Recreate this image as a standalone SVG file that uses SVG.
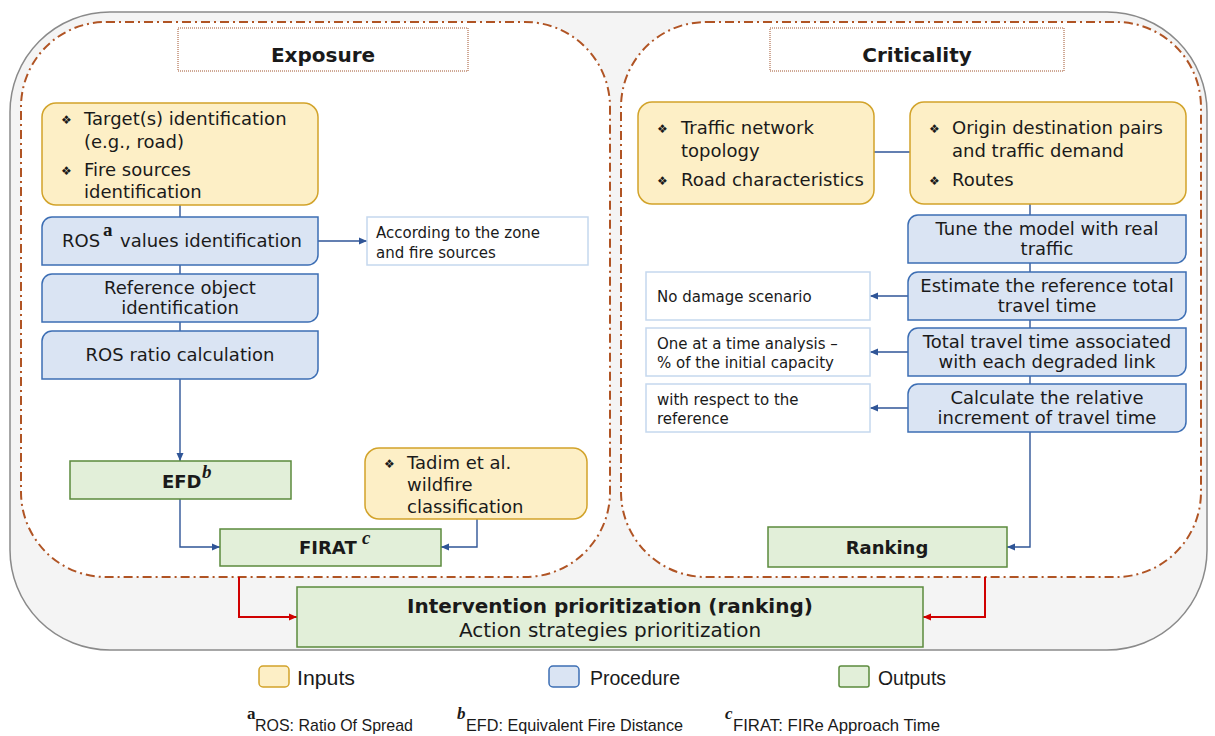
<svg xmlns="http://www.w3.org/2000/svg" width="1215" height="736" viewBox="0 0 1215 736">
<style>
.inp{fill:#fdefc6;stroke:#d2a32a;stroke-width:1.5}
.proc{fill:#dae4f3;stroke:#3c6eb4;stroke-width:1.5}
.out{fill:#e2efd9;stroke:#5b8a3c;stroke-width:1.5}
.ann{fill:#ffffff;stroke:#c5d8ee;stroke-width:1.5}
.ttl{fill:#ffffff;stroke:#a0522d;stroke-width:1;stroke-dasharray:1 1}
.dd{fill:#ffffff;stroke:#b05424;stroke-width:2;stroke-dasharray:9 4 2 4}
.t{font-family:"DejaVu Sans",Verdana,sans-serif;font-size:18px;fill:#1a1a1a}
.m{text-anchor:middle}
.s{font-size:15px}
.b{font-weight:bold}
.bl{font-size:12px}
.sup{font-family:"Liberation Serif","Times New Roman",serif;font-size:19px;fill:#1a1a1a}
.leg{font-family:"Liberation Sans",Arial,sans-serif;font-size:20px;fill:#1a1a1a}
.fn{font-family:"Liberation Sans",Arial,sans-serif;font-size:17px;fill:#1a1a1a}
.c{fill:none;stroke:#2f5597;stroke-width:1.4}
.r{fill:none;stroke:#d00000;stroke-width:2}
</style>
<defs>
<marker id="ab" markerWidth="9" markerHeight="9" refX="8" refY="4.5" orient="auto" markerUnits="userSpaceOnUse"><path d="M0,1 L8,4.5 L0,8 Z" fill="#2f5597"/></marker>
<marker id="ar" markerWidth="9" markerHeight="9" refX="8" refY="4.5" orient="auto" markerUnits="userSpaceOnUse"><path d="M0,1 L8,4.5 L0,8 Z" fill="#d00000"/></marker>
</defs>
<rect width="1215" height="736" fill="#ffffff"/>
<g id="containers">
<rect x="10" y="12" width="1197" height="638" rx="100" ry="100" fill="#f4f4f4" stroke="#8a8a8a" stroke-width="1.5"/>
<rect class="dd" x="21" y="22" width="589" height="555" rx="85" ry="85"/>
<rect class="dd" x="621" y="22" width="580" height="555" rx="85" ry="85"/>
</g>
<g id="title-exposure">
<rect class="ttl" x="178" y="28" width="290" height="43"/>
<text class="t b m" x="323" y="62" style="font-size:20px">Exposure</text>
</g>
<g id="title-criticality">
<rect class="ttl" x="770" y="28" width="294" height="43"/>
<text class="t b m" x="917" y="62" style="font-size:20px">Criticality</text>
</g>
<g id="connectors">
<path class="c" d="M180 205 V217"/>
<path class="c" d="M180 265 V274"/>
<path class="c" d="M180 322 V331"/>
<path class="c" d="M180 379 V461" marker-end="url(#ab)"/>
<path class="c" d="M318 241 H367" marker-end="url(#ab)"/>
<path class="c" d="M180 499 V547 H220" marker-end="url(#ab)"/>
<path class="c" d="M477 519 V547 H441" marker-end="url(#ab)"/>
<path class="c" d="M874 152 H910"/>
<path class="c" d="M1030 204 V215"/>
<path class="c" d="M1030 263 V272"/>
<path class="c" d="M1030 320 V328"/>
<path class="c" d="M1030 376 V384"/>
<path class="c" d="M908 296 H870" marker-end="url(#ab)"/>
<path class="c" d="M908 352 H870" marker-end="url(#ab)"/>
<path class="c" d="M908 408 H870" marker-end="url(#ab)"/>
<path class="c" d="M1030 432 V547 H1007" marker-end="url(#ab)"/>
<path class="r" d="M239 577 V617 H297" marker-end="url(#ar)"/>
<path class="r" d="M985 577 V617 H923" marker-end="url(#ar)"/>
</g>
<g id="exp-inputs">
<rect class="inp" x="42" y="103" width="276" height="102" rx="14" ry="14"/>
<text class="t bl" x="61" y="124">❖</text>
<text class="t" x="84" y="125">Target(s) identification</text>
<text class="t" x="84" y="148">(e.g., road)</text>
<text class="t bl" x="61" y="175">❖</text>
<text class="t" x="84" y="176">Fire sources</text>
<text class="t" x="84" y="198">identification</text>
</g>
<g id="ros-values">
<path class="proc" d="M52 217 H318 V255 A10 10 0 0 1 308 265 H42 V227 A10 10 0 0 1 52 217 Z"/>
<text class="t" x="62" y="247">ROS</text>
<text class="sup" x="103" y="236" font-weight="bold">a</text>
<text class="t" x="120" y="247">values identification</text>
</g>
<g id="ann-zone">
<rect class="ann" x="367" y="217" width="221" height="48"/>
<text class="t s" x="376" y="238">According to the zone</text>
<text class="t s" x="376" y="258">and fire sources</text>
</g>
<g id="ref-object">
<path class="proc" d="M52 274 H318 V312 A10 10 0 0 1 308 322 H42 V284 A10 10 0 0 1 52 274 Z"/>
<text class="t m" x="180" y="294">Reference object</text>
<text class="t m" x="180" y="314">identification</text>
</g>
<g id="ros-ratio">
<path class="proc" d="M52 331 H318 V369 A10 10 0 0 1 308 379 H42 V341 A10 10 0 0 1 52 331 Z"/>
<text class="t m" x="180" y="361">ROS ratio calculation</text>
</g>
<g id="efd">
<rect class="out" x="70" y="461" width="221" height="38"/>
<text class="t b" x="162" y="488">EFD</text>
<text class="sup" x="202" y="478" font-style="italic" font-weight="bold">b</text>
</g>
<g id="tadim">
<rect class="inp" x="365" y="448" width="222" height="71" rx="14" ry="14"/>
<text class="t bl" x="384" y="468">❖</text>
<text class="t" x="407" y="469">Tadim et al.</text>
<text class="t" x="407" y="491">wildfire</text>
<text class="t" x="407" y="513">classification</text>
</g>
<g id="firat">
<rect class="out" x="220" y="529" width="221" height="37"/>
<text class="t b" x="299" y="554">FIRAT</text>
<text class="sup" x="362" y="544" font-style="italic" font-weight="bold">c</text>
</g>
<g id="crit-inputs-1">
<rect class="inp" x="638" y="102" width="236" height="102" rx="14" ry="14"/>
<text class="t bl" x="657" y="133">❖</text>
<text class="t" x="681" y="134">Traffic network</text>
<text class="t" x="681" y="157">topology</text>
<text class="t bl" x="657" y="185">❖</text>
<text class="t" x="681" y="186">Road characteristics</text>
</g>
<g id="crit-inputs-2">
<rect class="inp" x="910" y="102" width="276" height="102" rx="14" ry="14"/>
<text class="t bl" x="929" y="133">❖</text>
<text class="t" x="952" y="134">Origin destination pairs</text>
<text class="t" x="952" y="157">and traffic demand</text>
<text class="t bl" x="929" y="185">❖</text>
<text class="t" x="952" y="186">Routes</text>
</g>
<g id="tune">
<path class="proc" d="M918 215 H1186 V253 A10 10 0 0 1 1176 263 H908 V225 A10 10 0 0 1 918 215 Z"/>
<text class="t m" x="1047" y="235">Tune the model with real</text>
<text class="t m" x="1047" y="255">traffic</text>
</g>
<g id="estimate">
<path class="proc" d="M918 272 H1186 V310 A10 10 0 0 1 1176 320 H908 V282 A10 10 0 0 1 918 272 Z"/>
<text class="t m" x="1047" y="292">Estimate the reference total</text>
<text class="t m" x="1047" y="312">travel time</text>
</g>
<g id="total">
<path class="proc" d="M918 328 H1186 V366 A10 10 0 0 1 1176 376 H908 V338 A10 10 0 0 1 918 328 Z"/>
<text class="t m" x="1047" y="348">Total travel time associated</text>
<text class="t m" x="1047" y="368">with each degraded link</text>
</g>
<g id="calculate">
<path class="proc" d="M918 384 H1186 V422 A10 10 0 0 1 1176 432 H908 V394 A10 10 0 0 1 918 384 Z"/>
<text class="t m" x="1047" y="404">Calculate the relative</text>
<text class="t m" x="1047" y="424">increment of travel time</text>
</g>
<g id="ann-nodamage">
<rect class="ann" x="646" y="272" width="224" height="48"/>
<text class="t s" x="657" y="302">No damage scenario</text>
</g>
<g id="ann-oneatatime">
<rect class="ann" x="646" y="328" width="224" height="48"/>
<text class="t s" x="657" y="349">One at a time analysis –</text>
<text class="t s" x="657" y="368">% of the initial capacity</text>
</g>
<g id="ann-respect">
<rect class="ann" x="646" y="384" width="224" height="48"/>
<text class="t s" x="657" y="405">with respect to the</text>
<text class="t s" x="657" y="424">reference</text>
</g>
<g id="ranking">
<rect class="out" x="768" y="527" width="239" height="40"/>
<text class="t b m" x="887" y="554">Ranking</text>
</g>
<g id="intervention">
<rect class="out" x="297" y="587" width="626" height="60"/>
<text class="t b m" x="610" y="613" style="font-size:20px">Intervention prioritization (ranking)</text>
<text class="t m" x="610" y="637" style="font-size:20px">Action strategies prioritization</text>
</g>
<g id="legend">
<rect x="259" y="666" width="30" height="21" rx="4" fill="#fdefc6" stroke="#d2a32a" stroke-width="1.5"/>
<text class="leg" x="297" y="685" textLength="58" lengthAdjust="spacingAndGlyphs">Inputs</text>
<rect x="549" y="666" width="30" height="21" rx="4" fill="#dae4f3" stroke="#3c6eb4" stroke-width="1.5"/>
<text class="leg" x="590" y="685" textLength="90" lengthAdjust="spacingAndGlyphs">Procedure</text>
<rect x="839" y="666" width="30" height="21" rx="2" fill="#e2efd9" stroke="#5b8a3c" stroke-width="1.5"/>
<text class="leg" x="878" y="685" textLength="68" lengthAdjust="spacingAndGlyphs">Outputs</text>
</g>
<g id="footnotes">
<text class="sup" x="247" y="719" font-weight="bold" style="font-size:17px">a</text>
<text class="fn" x="255" y="731" textLength="158" lengthAdjust="spacingAndGlyphs">ROS: Ratio Of Spread</text>
<text class="sup" x="457" y="719" font-style="italic" font-weight="bold" style="font-size:17px">b</text>
<text class="fn" x="466" y="731" textLength="217" lengthAdjust="spacingAndGlyphs">EFD: Equivalent Fire Distance</text>
<text class="sup" x="725" y="719" font-style="italic" font-weight="bold" style="font-size:17px">c</text>
<text class="fn" x="733" y="731" textLength="207" lengthAdjust="spacingAndGlyphs">FIRAT: FIRe Approach Time</text>
</g>
</svg>
